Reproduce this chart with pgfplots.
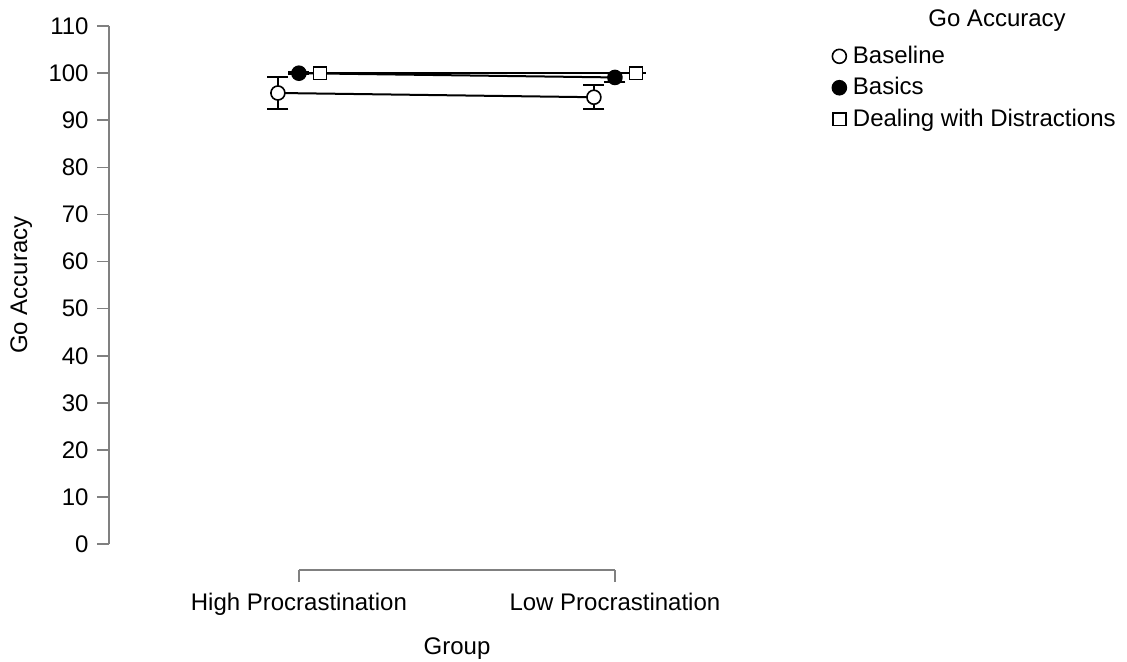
\documentclass[border=0pt]{standalone}
\usepackage{fontspec}
\setmainfont{Liberation Sans}
\usepackage{pgfplots}
\pgfplotsset{compat=1.18}
\begin{document}
\fontsize{12pt}{14pt}\selectfont
\begin{tikzpicture}
\path[use as bounding box] (-54.5pt,-45.5pt) rectangle (509pt,285pt);
\begin{axis}[
  at={(0,0)}, anchor=south west,
  x=158pt, y=2.3545pt,
  xmin=-0.601, xmax=1.25, ymin=-5.5, ymax=110,
  clip=false,
  axis x line*=bottom, axis y line*=left,
  axis line style={draw=none},
  xtick={0,1}, xticklabels={High Procrastination, Low Procrastination},
  ytick={0,10,...,110},
  tick align=outside, major tick length=6pt,
  tick style={black!50, line width=0.8pt},
  ticklabel style={font=\fontsize{12}{14}\selectfont},
  xticklabel style={yshift=-1.5pt},
  /pgf/number format/assume math mode=true,
  xlabel={Group}, ylabel={Go Accuracy},
  label style={font=\fontsize{12}{14}\selectfont},
  xlabel style={at={(axis description cs:0.595,-0.1443)}, anchor=center},
  ylabel style={at={(axis description cs:-0.150,0.524)}, anchor=center},
  legend style={at={(axis description cs:1.236,0.970)}, anchor=north west,
    draw=none, fill=none, font=\fontsize{12}{14}\selectfont,
    row sep=2.2pt, column sep=1.8pt, inner sep=0pt, nodes={inner sep=1.5pt}},
  legend cell align=left,
  legend image code/.code={\draw[#1] plot coordinates {(0pt,0pt)};},
]
% connecting lines
\addplot[black, line width=1pt, forget plot] coordinates {(-0.0665,95.8) (0.9335,94.9)};
\addplot[black, line width=1pt, forget plot] coordinates {(0,100.0) (1,99.1)};
\addplot[black, line width=1pt, forget plot] coordinates {(0.0665,100.0) (1.0665,100.0)};
% points with error bars
\addplot[black, only marks, mark=*, mark size=3.5pt, mark options={fill=white, line width=0.8pt},
  error bars/.cd, y dir=both, y explicit,
  error bar style={line width=1pt, black},
  error mark options={rotate=90, mark size=5.25pt, line width=1pt, black}]
  table[x=x, y=y, y error=e] {
  x y e
  -0.0665 95.8 3.3
  0.9335 94.9 2.6
  };
\addlegendentry{Baseline}
\addplot[black, only marks, mark=*, mark size=3.5pt, mark options={fill=black, line width=0.8pt},
  error bars/.cd, y dir=both, y explicit,
  error bar style={line width=1pt, black},
  error mark options={rotate=90, mark size=5.25pt, line width=1pt, black}]
  table[x=x, y=y, y error=e] {
  x y e
  0 100.0 0.2
  1 99.1 1.0
  };
\addlegendentry{Basics}
\addplot[black, only marks, mark=square*, mark size=3.2pt, mark options={fill=white, line width=0.8pt},
  error bars/.cd, y dir=both, y explicit,
  error bar style={line width=1pt, black},
  error mark options={rotate=90, mark size=5.25pt, line width=1pt, black}]
  table[x=x, y=y, y error=e] {
  x y e
  0.0665 100.0 0.0
  1.0665 100.0 0.0
  };
\addlegendentry{Dealing with Distractions}
\draw[black!50, line width=0.8pt] (axis cs:-0.601,0) -- (axis cs:-0.601,110);
\draw[black!50, line width=0.8pt] (axis cs:0,-5.5) -- (axis cs:1,-5.5);
\end{axis}
\node[font=\fontsize{12}{14}\selectfont] at (444pt,274.5pt) {Go Accuracy};
\end{tikzpicture}
\end{document}
